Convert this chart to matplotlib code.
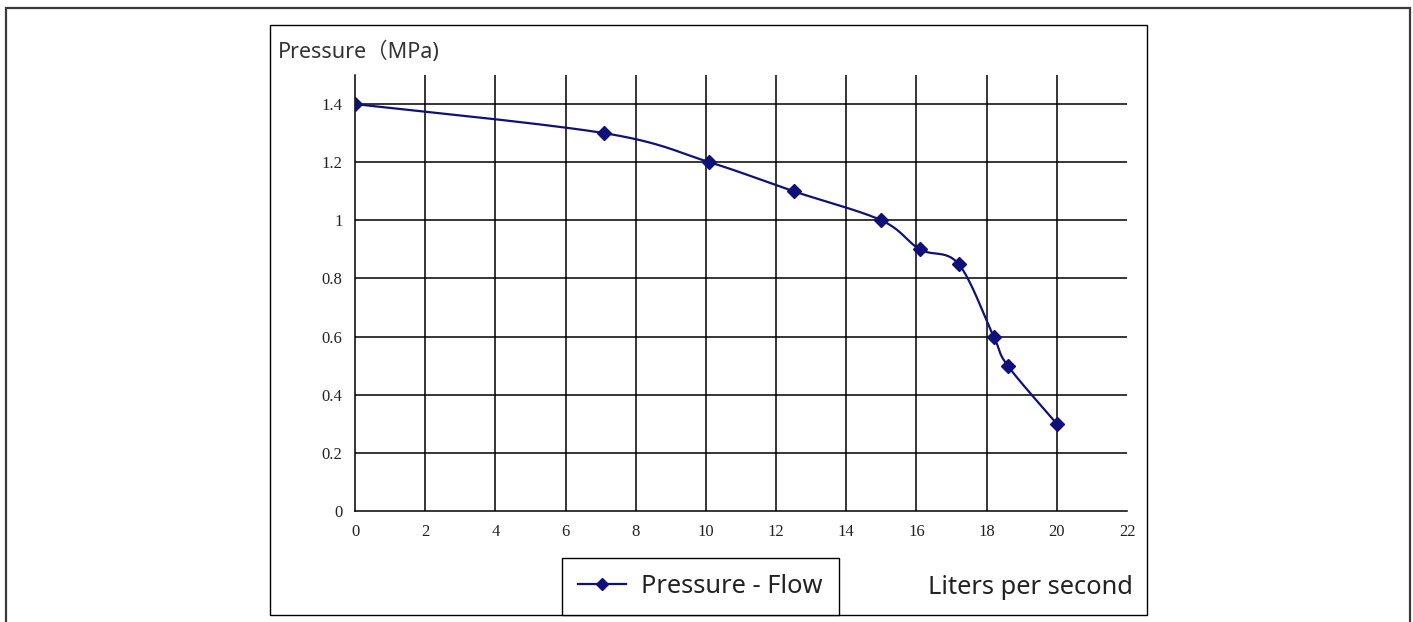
import numpy as np
import matplotlib
matplotlib.use("Agg")
import matplotlib.pyplot as plt
import matplotlib.patches as patches
from matplotlib.lines import Line2D

# data
flow = [0, 7.1, 10.1, 12.5, 15.0, 16.1, 17.2, 18.2, 18.6, 20.0]
pressure = [1.4, 1.3, 1.2, 1.1, 1.0, 0.9, 0.85, 0.6, 0.5, 0.3]
x_ticks = [0, 2, 4, 6, 8, 10, 12, 14, 16, 18, 20, 22]
y_ticks = [0, 0.2, 0.4, 0.6, 0.8, 1, 1.2, 1.4]
y_tick_labels = ["0", "0.2", "0.4", "0.6", "0.8", "1", "1.2", "1.4"]
series_name = "Pressure - Flow"
x_title = "Liters per second"
y_title = "Pressure\uff08MPa)"

NAVY = "#10107a"
SANS = ["Noto Sans", "Noto Sans CJK SC", "DejaVu Sans"]
SERIF = "Liberation Serif"


def smooth(xs, ys, n=30):
    # Catmull-Rom style smoothing like a spreadsheet "smoothed line"
    xs = np.asarray(xs, float)
    ys = np.asarray(ys, float)
    px = np.concatenate([[xs[0]], xs, [xs[-1]]])
    py = np.concatenate([[ys[0]], ys, [ys[-1]]])
    outx, outy = [], []
    t = np.linspace(0, 1, n)
    for i in range(1, len(px) - 2):
        p0 = np.array([px[i], py[i]])
        p3 = np.array([px[i + 1], py[i + 1]])
        c1 = p0 + (np.array([px[i + 1], py[i + 1]]) - np.array([px[i - 1], py[i - 1]])) / 6
        c2 = p3 - (np.array([px[i + 2], py[i + 2]]) - np.array([px[i], py[i]])) / 6
        b = ((1 - t) ** 3)[:, None] * p0 + (3 * (1 - t) ** 2 * t)[:, None] * c1 \
            + (3 * (1 - t) * t ** 2)[:, None] * c2 + (t ** 3)[:, None] * p3
        outx.extend(b[:, 0])
        outy.extend(b[:, 1])
    return outx, outy


fig = plt.figure(figsize=(14.13, 6.22), dpi=100)
W, H = 1413, 622

# page border
fig.patches.append(patches.Rectangle((6 / W, -0.1), 1404 / W, 1.1 - 8 / H,
                                     transform=fig.transFigure, fill=False,
                                     ec="#3a3a3a", lw=1.6))
# chart area box
fig.patches.append(patches.Rectangle((270 / W, 1 - 615 / H), 877 / W, 590 / H,
                                     transform=fig.transFigure, fill=False,
                                     ec="black", lw=1.0))

ax = fig.add_axes([355 / W, 1 - 511 / H, 772 / W, 436 / H])
ax.set_xlim(0, 22)
ax.set_ylim(0, 1.5)

for xv in x_ticks[1:-1]:
    ax.axvline(xv, color="black", lw=1.1, zorder=1)
for yv in y_ticks[1:]:
    ax.axhline(yv, color="black", lw=1.1, zorder=1)

sx, sy = smooth(flow, pressure)
ax.plot(sx, sy, color=NAVY, lw=1.6, zorder=3)
ax.plot(flow, pressure, ls="none", marker="D", ms=7, color=NAVY, zorder=4)

ax.set_xticks(x_ticks)
ax.set_xticklabels([str(v) for v in x_ticks])
ax.set_yticks(y_ticks)
ax.set_yticklabels(y_tick_labels)
ax.tick_params(length=0, labelsize=12, pad=9)
for lab in ax.get_xticklabels() + ax.get_yticklabels():
    lab.set_fontfamily(SERIF)
    lab.set_color("#222222")

ax.spines["top"].set_visible(False)
ax.spines["right"].set_visible(False)
ax.spines["left"].set_linewidth(1.1)
ax.spines["bottom"].set_linewidth(1.1)

fig.text(278 / W, 1 - 52 / H, y_title, family=SANS, fontsize=15.5,
         ha="left", va="center", color="#333333")
fig.text(1133 / W, 1 - 588 / H, x_title, family=SANS, fontsize=18.3,
         ha="right", va="center", color="#222222")

handle = Line2D([], [], color=NAVY, lw=1.6, marker="D", ms=6)
leg = fig.legend([handle], [series_name], loc="lower left",
                 bbox_to_anchor=(562 / W, 1 - 615 / H),
                 frameon=True, fancybox=False, edgecolor="black",
                 framealpha=1, borderaxespad=0, borderpad=0.62,
                 handlelength=1.9, handletextpad=0.6,
                 prop={"family": SANS, "size": 18.3})
leg.get_frame().set_linewidth(1.0)
for t in leg.get_texts():
    t.set_color("#222222")

fig.savefig("out.png", dpi=100, facecolor="white")
